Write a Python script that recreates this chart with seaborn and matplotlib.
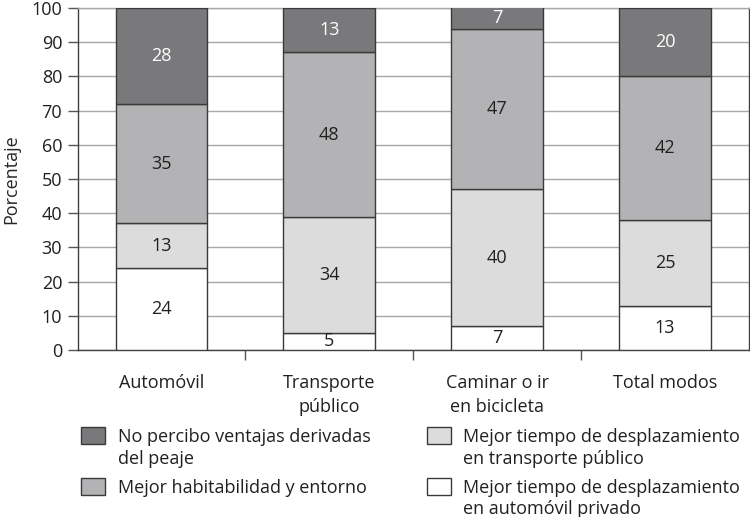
import pandas as pd
import seaborn as sns
import matplotlib.pyplot as plt
from matplotlib.patches import Rectangle

# Datos (porcentajes)
categorias = ['Automóvil', 'Transporte\npúblico', 'Caminar o ir\nen bicicleta', 'Total modos']
auto_privado = [24, 5, 7, 13]
transporte_publico = [13, 34, 40, 25]
habitabilidad = [35, 48, 47, 42]
sin_ventajas = [28, 13, 7, 20]

series = ['Mejor tiempo de desplazamiento\nen automóvil privado',
          'Mejor tiempo de desplazamiento\nen transporte público',
          'Mejor habitabilidad y entorno',
          'No percibo ventajas derivadas\ndel peaje']
valores = [auto_privado, transporte_publico, habitabilidad, sin_ventajas]
colores = ['#ffffff', '#dcdcdd', '#b3b3b5', '#79797b']
color_texto = ['#231f20', '#231f20', '#231f20', '#ffffff']
borde = '#3a3a3a'

sns.set_theme(style="white")
plt.rcParams['font.family'] = ['Open Sans', 'DejaVu Sans']
plt.rcParams['text.color'] = '#231f20'
fs = 13

fig = plt.figure(figsize=(7.5, 5.17), dpi=100)
ax = fig.add_axes([77.5 / 750, 1 - 350 / 517, (749 - 77.5) / 750, (350 - 8) / 517])

df = pd.DataFrame({'categoria': categorias})
base = [0] * len(categorias)
for nombre, vals, col, ctxt in zip(series, valores, colores, color_texto):
    df['valor'] = vals
    sns.barplot(data=df, x='categoria', y='valor', bottom=base, color=col,
                width=0.546, edgecolor=borde, linewidth=1, saturation=1, ax=ax, zorder=3)
    for i, v in enumerate(vals):
        centro = min(base[i] + v / 2, (base[i] + 100) / 2)
        ax.text(i, centro, str(v), ha='center', va='center', fontsize=fs,
                color=ctxt, zorder=4)
    base = [b + v for b, v in zip(base, vals)]

ax.set_ylim(0, 100)
ax.set_xlim(-0.5, 3.5)
ax.set_yticks(range(0, 101, 10))
ax.yaxis.grid(True, color='#a8a8a8', linewidth=1)
ax.set_axisbelow(True)
ax.set_xlabel('')
ax.set_ylabel('Porcentaje', fontsize=fs, labelpad=8)
ax.tick_params(axis='y', left=True, length=7, width=1, color='#555555',
               labelsize=fs, labelcolor='#231f20', pad=4)
ax.tick_params(axis='x', bottom=False, labelsize=fs, labelcolor='#231f20', pad=11)
for etiqueta in ax.get_xticklabels():
    etiqueta.set_linespacing(1.45)
ax.set_xticks([0.5, 1.5, 2.5], minor=True)
ax.tick_params(axis='x', which='minor', bottom=True, length=7, width=1, color='#555555')
for lado in ['left', 'bottom', 'right']:
    ax.spines[lado].set_color('#404040')
    ax.spines[lado].set_linewidth(1)
ax.spines['top'].set_color('#a8a8a8')
ax.spines['top'].set_linewidth(1)

# Leyenda en dos columnas
def px(x, y):
    return x / 750, 1 - y / 517

orden = [3, 2, 1, 0]
posiciones = [(81, 427, 118), (81, 478, 118), (427, 427, 463), (427, 478, 463)]
for idx, (sx, sy, tx) in zip(orden, posiciones):
    x0, y0 = px(sx, sy + 17)
    fig.add_artist(Rectangle((x0, y0), 24 / 750, 17 / 517, transform=fig.transFigure,
                             facecolor=colores[idx], edgecolor=borde, linewidth=1))
    tx0, ty0 = px(tx, sy + 1)
    fig.text(tx0, ty0, series[idx], ha='left', va='top', fontsize=fs,
             linespacing=1.25)

fig.savefig('out.png', dpi=100)
